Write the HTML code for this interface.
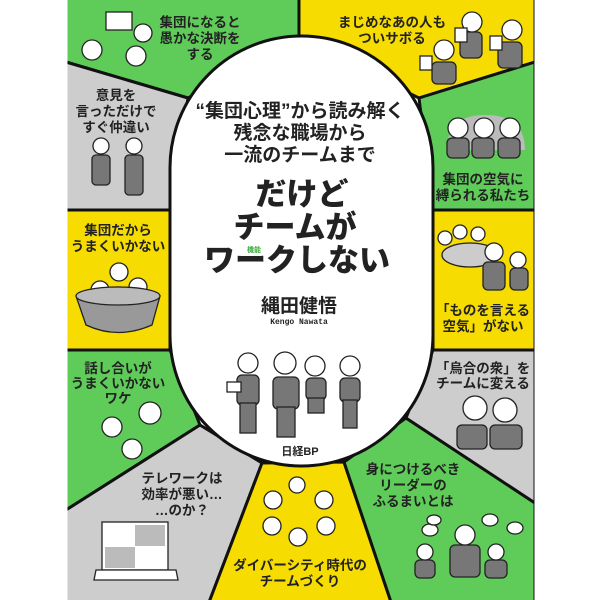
<!DOCTYPE html>
<html><head><meta charset="utf-8"><style>
html,body{margin:0;padding:0;background:#fff;}
svg{display:block;}
text{font-family:"Liberation Sans","Noto Sans CJK JP",sans-serif;fill:#222;}
.p{font-size:13.5px;font-weight:bold;text-anchor:middle;}
.s{font-size:19px;font-weight:bold;text-anchor:middle;}
.t{font-size:31px;font-weight:900;text-anchor:middle;}
</style></head><body>
<svg width="600" height="600" viewBox="0 0 600 600" xmlns="http://www.w3.org/2000/svg">
<rect width="600" height="600" fill="#fff"/>
<g stroke="#111" stroke-width="3" stroke-linejoin="round">
<polygon points="66,-5 299,-5 299,40 188,98 66,62" fill="#5fcc5a"/>
<polygon points="299,-5 535,-5 535,62 419,98 299,40" fill="#f6dc00"/>
<polygon points="66,62 188,98 170,210 66,210" fill="#cdcdcd"/>
<polygon points="66,210 170,210 170,350 66,350" fill="#f6dc00"/>
<polygon points="66,350 170,350 200,425 66,510" fill="#5fcc5a"/>
<polygon points="66,510 200,425 262,463 208,605 66,605" fill="#cdcdcd"/>
<polygon points="262,463 344,462 392,605 208,605" fill="#f6dc00"/>
<polygon points="344,462 406,418 535,503 535,605 392,605" fill="#5fcc5a"/>
<polygon points="433,350 535,350 535,503 406,418" fill="#cdcdcd"/>
<polygon points="433,210 535,210 535,350 433,350" fill="#f6dc00"/>
<polygon points="419,98 535,62 535,210 433,210" fill="#5fcc5a"/>
<rect x="170" y="36" width="263" height="430" rx="131.5" ry="131.5" fill="#fff"/>
</g>
<rect x="0" y="0" width="67.5" height="600" fill="#fff"/>
<rect x="534.5" y="0" width="66" height="600" fill="#fff"/>

<text class="p" x="200" y="27">集団になると</text>
<text class="p" x="200" y="43">愚かな決断を</text>
<text class="p" x="200" y="59">する</text>
<text class="p" x="392" y="27">まじめなあの人も</text>
<text class="p" x="392" y="43">ついサボる</text>
<text class="p" x="116" y="100">意見を</text>
<text class="p" x="116" y="116">言っただけで</text>
<text class="p" x="116" y="132">すぐ仲違い</text>
<text class="p" x="483" y="184">集団の空気に</text>
<text class="p" x="483" y="200">縛られる私たち</text>
<text class="p" x="118" y="235">集団だから</text>
<text class="p" x="118" y="251">うまくいかない</text>
<text class="p" x="483" y="315">「ものを言える</text>
<text class="p" x="483" y="331">空気」がない</text>
<text class="p" x="118" y="373">話し合いが</text>
<text class="p" x="118" y="388">うまくいかない</text>
<text class="p" x="118" y="403">ワケ</text>
<text class="p" x="483" y="373">「烏合の衆」を</text>
<text class="p" x="483" y="388">チームに変える</text>
<text class="p" x="182" y="483">テレワークは</text>
<text class="p" x="182" y="499">効率が悪い…</text>
<text class="p" x="182" y="515">…のか？</text>
<text class="p" x="413" y="474">身につけるべき</text>
<text class="p" x="413" y="490">リーダーの</text>
<text class="p" x="413" y="506">ふるまいとは</text>
<text class="p" x="300" y="570">ダイバーシティ時代の</text>
<text class="p" x="300" y="586">チームづくり</text>

<text class="s" x="300" y="117">“集団心理”から読み解く</text>
<text class="s" x="300" y="139">残念な職場から</text>
<text class="s" x="300" y="161">一流のチームまで</text>
<text class="t" x="302" y="205">だけど</text>
<text class="t" x="295" y="238">チームが</text>
<text class="t" x="297" y="271">ワークしない</text>
<text x="254" y="252" style="font-size:7px;fill:#3cab3c;font-weight:bold;text-anchor:middle">機能</text>
<text x="299" y="312" style="font-size:19px;font-weight:bold;text-anchor:middle">縄田健悟</text>
<text x="299" y="324" style="font-size:8px;font-weight:bold;text-anchor:middle;font-family:'Liberation Mono',monospace">Kengo Nawata</text>
<text x="300" y="455" style="font-size:11px;font-weight:bold;text-anchor:middle">日経BP</text>

<g stroke="#222" stroke-width="1.3">
<g fill="#777">
<rect x="237" y="375" width="22" height="30" rx="5"/><rect x="240" y="403" width="16" height="30"/>
<rect x="273" y="377" width="26" height="32" rx="5"/><rect x="277" y="407" width="18" height="30"/>
<rect x="306" y="378" width="20" height="22" rx="5"/><rect x="308" y="398" width="16" height="15"/>
<rect x="340" y="378" width="20" height="24" rx="5"/><rect x="343" y="400" width="14" height="28"/>
</g>
<g fill="#fff">
<circle cx="248" cy="363" r="10"/><circle cx="285" cy="363" r="11"/><circle cx="315" cy="366" r="10"/><circle cx="350" cy="366" r="10"/>
<rect x="227" y="382" width="14" height="10"/>
</g>
<rect x="106" y="12" width="26" height="18" fill="#fff"/>
<g fill="#fff"><circle cx="92" cy="50" r="10"/><circle cx="143" cy="33" r="9"/><circle cx="136" cy="56" r="10"/></g>
<g fill="#777"><rect x="460" y="32" width="22" height="26" rx="5"/><rect x="498" y="42" width="24" height="26" rx="5"/><rect x="432" y="62" width="24" height="22" rx="5"/></g>
<g fill="#fff"><circle cx="472" cy="22" r="10"/><circle cx="512" cy="30" r="10"/><circle cx="444" cy="50" r="10"/>
<rect x="455" y="28" width="12" height="14"/><rect x="490" y="36" width="12" height="14"/><rect x="420" y="56" width="12" height="14"/></g>
<g fill="#777"><rect x="92" y="155" width="18" height="30" rx="4"/><rect x="125" y="155" width="18" height="40" rx="4"/></g>
<g fill="#fff"><circle cx="101" cy="146" r="8"/><circle cx="134" cy="146" r="8"/></g>
<path d="M447,150 Q447,115 485,115 Q525,115 525,150 Z" fill="#bbb" stroke="none"/>
<g fill="#777"><rect x="447" y="138" width="22" height="20" rx="5"/><rect x="472" y="138" width="22" height="20" rx="5"/><rect x="498" y="138" width="22" height="20" rx="5"/></g>
<g fill="#fff"><circle cx="458" cy="128" r="10"/><circle cx="484" cy="128" r="10"/><circle cx="510" cy="128" r="10"/></g>
<g fill="#fff"><circle cx="100" cy="290" r="9"/><circle cx="119" cy="272" r="9"/><circle cx="138" cy="287" r="9"/></g>
<path d="M76,296 Q118,278 160,296 L152,325 Q118,340 86,325 Z" fill="#999"/>
<ellipse cx="118" cy="296" rx="42" ry="9" fill="#bbb"/>
<ellipse cx="470" cy="255" rx="28" ry="12" fill="#ccc"/>
<g fill="#777"><rect x="483" y="262" width="22" height="28" rx="5"/><rect x="510" y="268" width="18" height="22" rx="5"/></g>
<g fill="#fff"><circle cx="445" cy="238" r="7"/><circle cx="460" cy="232" r="7"/><circle cx="478" cy="234" r="7"/><circle cx="494" cy="252" r="9"/><circle cx="518" cy="260" r="8"/></g>
<g fill="#fff"><circle cx="112" cy="427" r="10"/><circle cx="150" cy="413" r="11"/><circle cx="132" cy="449" r="10"/></g>
<g fill="#777"><rect x="457" y="425" width="30" height="24" rx="5"/><rect x="490" y="425" width="32" height="24" rx="5"/></g>
<g fill="#fff"><circle cx="475" cy="408" r="12"/><circle cx="505" cy="410" r="12"/></g>
<rect x="102" y="522" width="66" height="48" fill="#fff"/>
<rect x="135" y="525" width="30" height="21" fill="#bbb" stroke="none"/><rect x="105" y="547" width="30" height="21" fill="#bbb" stroke="none"/>
<path d="M96,570 L176,570 L178,580 L94,580 Z" fill="#fff"/>
<g fill="#fff"><circle cx="297" cy="485" r="8"/><circle cx="273" cy="500" r="9"/><circle cx="324" cy="500" r="9"/><circle cx="272" cy="526" r="9"/><circle cx="326" cy="526" r="9"/><circle cx="298" cy="537" r="9"/></g>
<g fill="#fff"><ellipse cx="430" cy="530" rx="8" ry="6"/><ellipse cx="434" cy="520" rx="7" ry="5"/><ellipse cx="490" cy="520" rx="8" ry="6"/><ellipse cx="515" cy="528" rx="8" ry="6"/></g>
<g fill="#777"><rect x="450" y="545" width="30" height="32" rx="5"/><rect x="415" y="560" width="20" height="18" rx="5"/><rect x="485" y="560" width="22" height="18" rx="5"/></g>
<g fill="#fff"><circle cx="465" cy="535" r="10"/><circle cx="425" cy="552" r="8"/><circle cx="496" cy="552" r="8"/></g>
</g>
</svg>
</body></html>
